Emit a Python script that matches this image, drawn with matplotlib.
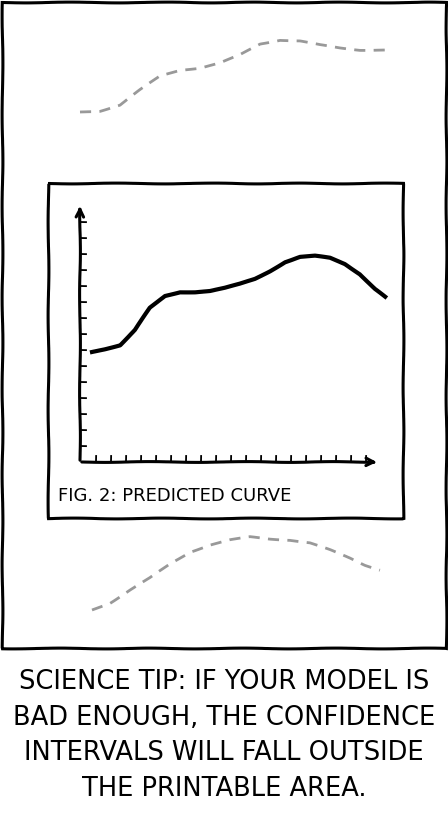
import matplotlib
matplotlib.use("Agg")
import matplotlib.pyplot as plt
from matplotlib.patches import Rectangle

curve_x = [92,105,120,135,150,165,180,195,210,225,240,255,270,285,300,315,330,345,360,375,385]
curve_y = [352,349,345,330,308,296,292,292,291,288,284,279,271,262,257,256,258,264,274,289,297]
upper_x = [80,100,120,140,160,180,200,220,240,260,280,300,320,340,360,385]
upper_y = [112,111,105,90,76,70,68,63,55,44,40,41,45,48,50,50]
lower_x = [92,110,130,150,170,190,210,230,250,270,290,310,330,350,365,380]
lower_y = [610,603,590,578,564,552,545,540,537,539,540,543,550,558,565,570]
fig_label = "FIG. 2: PREDICTED CURVE"
caption = ["SCIENCE TIP: IF YOUR MODEL IS", "BAD ENOUGH, THE CONFIDENCE",
           "INTERVALS WILL FALL OUTSIDE", "THE PRINTABLE AREA."]

plt.xkcd(scale=0.4, length=100, randomness=2)
plt.rcParams['font.family'] = ['DejaVu Sans']
plt.rcParams['path.effects'] = []
fig = plt.figure(figsize=(4.48, 8.22), dpi=100)
ax = fig.add_axes([0, 0, 1, 1])
ax.set_xlim(0, 448); ax.set_ylim(822, 0); ax.axis('off')

ax.add_patch(Rectangle((2, 2), 444, 646, fill=False, lw=2.2, ec='black'))
ax.add_patch(Rectangle((48, 183), 355, 335, fill=False, lw=2.2, ec='black'))
ax.annotate('', xy=(80, 203), xytext=(80, 463), arrowprops=dict(arrowstyle='->', lw=2.2, color='black'))
ax.annotate('', xy=(380, 462), xytext=(79, 462), arrowprops=dict(arrowstyle='->', lw=2.2, color='black'))
for ty in range(222, 462, 16):
    ax.plot([80, 86], [ty, ty], color='black', lw=1.3)
for tx in range(96, 372, 15):
    ax.plot([tx, tx], [462, 456], color='black', lw=1.3)
ax.plot(curve_x, curve_y, color='black', lw=3)
ax.plot(upper_x, upper_y, color='#999999', lw=2, ls=(0, (4, 3)))
ax.plot(lower_x, lower_y, color='#999999', lw=2, ls=(0, (4, 3)))
ax.text(58, 496, fig_label, fontsize=13, va='center', ha='left')
for i, line in enumerate(caption):
    ax.text(224, 682 + i * 35.5, line, fontsize=18.5, va='center', ha='center')
fig.savefig('out.png', dpi=100)
